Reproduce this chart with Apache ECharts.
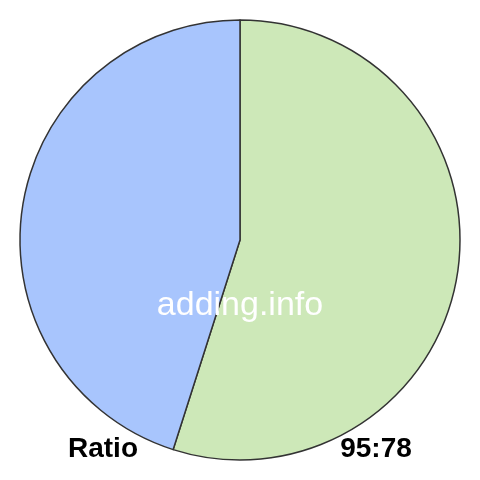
<!DOCTYPE html>
<html><head><meta charset="utf-8">
<script src="https://cdn.jsdelivr.net/npm/echarts@6/dist/echarts.min.js"></script>
<style>html,body{margin:0;padding:0;background:#fff}#c{width:480px;height:480px}</style>
</head><body><div id="c"></div>
<script>
const names = ['A', 'B'];
const values = [95, 78];
const colors = ['#cde8b8', '#a8c5fd'];
const leftLabel = 'Ratio';
const rightLabel = values.join(':');
const watermark = 'adding.info';

const chart = echarts.init(document.getElementById('c'), null, {renderer: 'canvas'});
chart.setOption({
  animation: false,
  backgroundColor: '#ffffff',
  series: [{
    type: 'pie',
    center: [240, 240],
    radius: 220,
    startAngle: 90,
    clockwise: true,
    label: {show: false},
    labelLine: {show: false},
    emphasis: {disabled: true},
    itemStyle: {borderColor: '#333333', borderWidth: 1.5},
    data: names.map((n, i) => ({name: n, value: values[i], itemStyle: {color: colors[i]}}))
  }],
  graphic: [
    {type: 'text', z: 100, x: 240, y: 306, style: {text: watermark, fill: '#ffffff', font: '34px "Liberation Sans", Arial, sans-serif', align: 'center', verticalAlign: 'middle'}},
    {type: 'text', z: 100, x: 103, y: 449, style: {text: leftLabel, fill: '#000', font: 'bold 28px "Liberation Sans", Arial, sans-serif', align: 'center', verticalAlign: 'middle'}},
    {type: 'text', z: 100, x: 376, y: 449, style: {text: rightLabel, fill: '#000', font: 'bold 28px "Liberation Sans", Arial, sans-serif', align: 'center', verticalAlign: 'middle'}}
  ]
});
</script></body></html>
